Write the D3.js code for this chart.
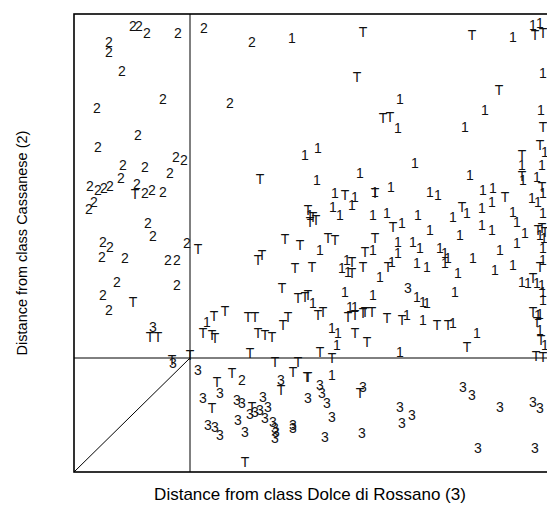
<!DOCTYPE html>
<html>
<head>
<meta charset="utf-8">
<script src="https://cdn.jsdelivr.net/npm/d3@7"></script>
<style>
  body { margin: 0; background: #fff; }
  svg text { font-family: Arial, "Liberation Sans", sans-serif; }
</style>
</head>
<body>
<div id="chart"></div>
<script>
// distances: [from class 3, from class 2]
const class1 = [
  [2.18,4.34],[2.31,3.17],[2.44,3.24],[3.26,3.73],[3.24,3.44],[3.41,3.09],[4.39,4.35],[4.59,4.47],
  [4.66,4.49],[4.69,3.99],[4.11,3.62],[4.67,3.62],[3.91,3.45],[4.71,3.20],[4.48,3.07],[4.68,3.07],
  [3.96,2.97],[4.63,2.95],[4.69,2.79],[3.56,2.80],[3.64,2.77],[4.09,2.82],[4.19,2.84],[4.58,2.74],
  [4.64,2.70],[3.93,2.59],[3.79,2.55],[4.08,2.64],[4.18,2.70],[4.39,2.60],[4.43,2.50],[4.69,2.59],
  [3.56,2.42],[3.86,2.37],[4.08,2.47],[4.18,2.42],[4.51,2.39],[4.66,2.37],[4.70,2.34],[4.43,2.29],
  [4.26,2.22],[4.69,2.24],[3.66,2.24],[3.71,2.19],[3.74,2.14],[3.71,2.09],[3.53,2.05],[3.99,2.14],
  [4.39,2.07],[3.84,1.99],[4.21,2.02],[4.69,2.12],[4.48,1.90],[4.54,1.89],[4.63,1.89],[4.68,1.87],
  [3.81,1.80],[4.69,1.80],[4.69,1.72],[3.53,1.69],[4.66,1.58],[2.86,2.99],[2.43,2.92],[2.61,2.79],
  [2.81,2.75],[3.01,2.80],[3.17,2.85],[2.36,2.57],[2.59,2.65],[2.66,2.57],[2.78,2.67],[2.99,2.57],
  [3.13,2.59],[3.28,2.49],[3.44,2.57],[3.24,2.30],[3.39,2.30],[3.46,2.24],[2.46,2.22],[2.99,2.22],
  [3.24,2.19],[2.73,2.12],[2.68,2.04],[2.74,2.00],[3.18,2.10],[3.06,1.95],[3.43,2.09],[2.71,1.80],
  [2.99,1.77],[3.43,1.75],[3.49,1.70],[2.39,1.69],[2.76,1.65],[2.81,1.65],[1.33,1.50],[3.33,1.57],
  [3.49,1.52],[2.58,1.44],[2.64,1.39],[2.63,1.27],[3.26,1.20],[2.58,0.97],[3.79,1.49],[4.03,1.39],
  [4.64,1.57],[4.66,1.42],[4.71,1.27],[4.49,2.92]
];
const class2 = [
  [0.59,4.46],[0.65,4.46],[0.73,4.39],[1.04,4.39],[0.35,4.30],[0.35,4.20],[0.48,4.01],[0.89,3.73],
  [0.23,3.64],[0.64,3.37],[0.24,3.25],[1.02,3.15],[1.10,3.12],[0.49,3.07],[0.71,3.05],[0.96,2.99],
  [0.47,2.94],[0.63,2.88],[0.16,2.86],[0.24,2.82],[0.30,2.84],[0.36,2.86],[0.71,2.79],[0.78,2.82],
  [0.89,2.80],[0.20,2.70],[0.15,2.63],[0.74,2.49],[0.79,2.36],[1.13,2.29],[0.29,2.30],[0.36,2.25],
  [0.28,2.15],[0.51,2.14],[0.94,2.12],[1.03,2.12],[0.43,1.90],[1.03,1.87],[0.29,1.77],[0.35,1.62],
  [1.30,4.44],[1.78,4.30],[1.56,3.69],[1.68,0.92]
];
const class3 = [
  [0.79,1.45],[0.99,1.09],[1.24,1.02],[1.46,0.79],[1.29,0.74],[1.63,0.72],[1.68,0.69],[1.89,0.75],
  [1.94,0.65],[1.81,0.60],[1.86,0.62],[1.76,0.58],[1.64,0.52],[1.71,0.40],[1.34,0.47],[1.41,0.45],
  [1.46,0.37],[1.91,0.54],[1.99,0.50],[2.01,0.44],[2.02,0.40],[2.01,0.34],[2.19,0.47],[2.19,0.44],
  [2.07,0.92],[2.46,0.87],[2.48,0.79],[2.53,0.69],[2.34,0.74],[2.89,0.85],[2.58,0.55],[2.51,0.35],
  [2.88,0.39],[3.26,0.65],[3.38,0.57],[3.28,0.49],[3.34,1.84],[3.89,0.85],[3.98,0.77],[4.26,0.65],
  [4.59,0.70],[4.66,0.64],[4.04,0.24],[4.61,0.24]
];
const testSet = [
  [0.61,2.78],[0.59,1.70],[0.76,1.35],[0.84,1.35],[0.98,1.12],[1.16,1.17],[2.89,4.40],[2.83,3.95],
  [3.09,3.54],[3.16,3.55],[3.98,4.37],[4.61,4.37],[4.69,4.39],[4.25,3.82],[4.69,3.45],[4.66,3.27],
  [4.48,3.17],[4.48,2.96],[4.68,2.85],[4.31,2.75],[3.88,2.65],[4.64,2.42],[4.68,2.44],[4.71,2.40],
  [4.66,2.05],[4.59,1.94],[4.59,1.60],[4.63,1.50],[4.67,1.32],[4.62,1.16],[4.69,1.15],[2.71,2.77],
  [3.01,2.79],[2.34,2.62],[2.39,2.55],[2.42,2.52],[2.36,2.50],[3.19,2.45],[2.54,2.34],[2.61,2.32],
  [3.01,2.34],[2.91,2.20],[2.38,2.05],[2.78,2.10],[2.89,2.05],[2.78,1.99],[3.14,2.05],[2.34,1.77],
  [2.91,1.60],[2.49,1.60],[1.86,2.93],[2.11,2.33],[2.26,2.27],[1.24,2.23],[1.88,2.17],[1.84,2.12],
  [2.21,2.04],[2.08,1.84],[2.24,1.74],[2.31,1.75],[1.51,1.61],[1.40,1.56],[1.74,1.55],[1.81,1.55],
  [2.14,1.55],[2.09,1.47],[1.29,1.39],[1.38,1.37],[1.41,1.34],[1.84,1.39],[1.91,1.37],[1.98,1.35],
  [1.76,1.19],[1.43,0.90],[1.58,0.99],[2.01,1.10],[2.24,1.10],[2.19,1.00],[2.33,0.95],[2.07,0.82],
  [1.38,0.64],[1.78,0.65],[1.71,0.10],[2.44,1.57],[2.74,1.55],[2.81,1.57],[2.89,1.59],[2.98,1.60],
  [3.13,1.54],[3.28,1.52],[2.81,1.39],[2.93,1.30],[2.46,1.20],[2.58,1.14],[2.34,0.95],[2.86,0.79],
  [3.63,1.47],[3.74,1.47],[3.93,1.25]
];
const classes = [
  { label: "1", points: class1 },
  { label: "2", points: class2 },
  { label: "3", points: class3 },
  { label: "T", points: testSet }
];
// cut-off distances for classes 3 and 2
const cutX = 1.16, cutY = 1.14;

const xTitle = "Distance from class Dolce di Rossano (3)";
const yTitle = "Distance from class Cassanese (2)";

const width = 547, height = 505;
const margin = { top: 14, right: -13, bottom: 33, left: 74 };

const svg = d3.select("#chart").append("svg")
  .attr("width", width)
  .attr("height", height);

const x = d3.scaleLinear().domain([0, 4.86]).range([margin.left, width - margin.right]);
const y = d3.scaleLinear().domain([0, 4.58]).range([height - margin.bottom, margin.top]);

// frame
svg.append("rect")
  .attr("x", x(0)).attr("y", y(4.58))
  .attr("width", x(4.86) - x(0)).attr("height", y(0) - y(4.58))
  .attr("fill", "none").attr("stroke", "#000").attr("stroke-width", 1.6);

// cut-off lines
const g = svg.append("g").attr("stroke", "#000").attr("stroke-width", 1);
g.append("line").attr("x1", x(cutX)).attr("x2", x(cutX)).attr("y1", y(0)).attr("y2", y(4.58));
g.append("line").attr("x1", x(0)).attr("x2", x(4.86)).attr("y1", y(cutY)).attr("y2", y(cutY));
g.append("line").attr("x1", x(0)).attr("x2", x(cutX)).attr("y1", y(0)).attr("y2", y(cutY));

// point labels
classes.forEach(c => {
  svg.append("g").selectAll("text")
    .data(c.points)
    .join("text")
    .attr("x", d => x(d[0]))
    .attr("y", d => y(d[1]))
    .attr("text-anchor", "middle")
    .attr("dy", "0.36em")
    .attr("font-size", 14)
    .attr("fill", "#111")
    .text(c.label);
});

// titles
svg.append("text")
  .attr("x", 310).attr("y", 500)
  .attr("text-anchor", "middle")
  .attr("font-size", 17)
  .text(xTitle);

svg.append("text")
  .attr("transform", "translate(27,243) rotate(-90)")
  .attr("text-anchor", "middle")
  .attr("font-size", 14.5)
  .text(yTitle);
</script>
</body>
</html>
